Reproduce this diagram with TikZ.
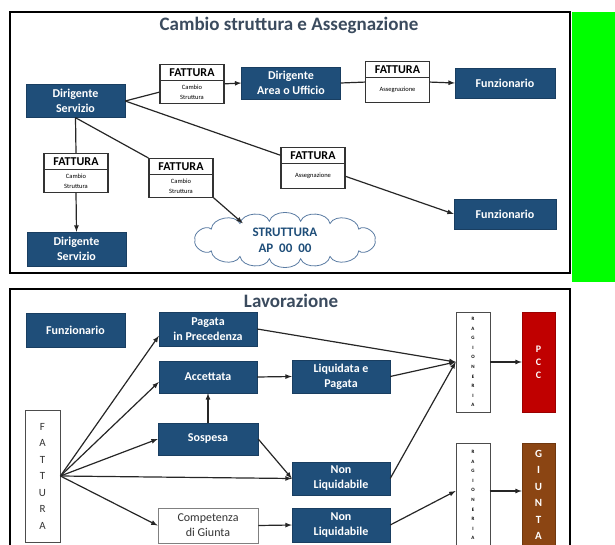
\documentclass[tikz,border=0pt]{standalone}
\usepackage{fontspec}
\setmainfont{Carlito}
\usepackage{xcolor}
\usepackage{tikz}
\usetikzlibrary{arrows.meta, calc, shapes.multipart}

\definecolor{boxblue}{HTML}{1F4E79}
\definecolor{titlegray}{HTML}{3B4B5E}
\definecolor{pccred}{HTML}{C00000}
\definecolor{giuntabrown}{HTML}{8B4513}
\definecolor{cloudline}{HTML}{5B7CA3}
\newcommand{\fathead}{\bfseries\fontsize{12}{13}\selectfont}
\newcommand{\subpad}{\rule[-7pt]{0pt}{17pt}}

\begin{document}
\begin{tikzpicture}[x=1pt, y=-1pt,
    blu/.style={draw=boxblue!80!black, fill=boxblue, text=white, align=center,
        font=\bfseries\fontsize{12}{15}\selectfont, minimum width=99pt, minimum height=33pt, inner sep=1pt},
    fatt/.style={rectangle split, rectangle split parts=2, draw=black!80, line width=1.1pt, fill=white,
        text width=58pt, align=center, inner xsep=3pt, inner ysep=3.5pt, anchor=north,
        font=\fontsize{6.5}{10}\selectfont},
    title/.style={text=titlegray, font=\bfseries\fontsize{19}{21}\selectfont},
    col/.style={draw=black!70, thick, fill=white, minimum width=34pt, inner sep=1pt, align=center},
    conn/.style={black!85, line width=1.2pt},
    arr/.style={black!85, line width=1.2pt, -latex}]
    \useasboundingbox (0,0) rectangle (615,545);

    \fill[green] (572,12) rectangle (615,282);
    \draw[very thick] (10,12) rectangle (570,273);
    \draw[very thick] (10,289) rectangle (570,560);

    \node[title] (t1) at (289,25) {Cambio struttura e Assegnazione};
    \node[title] (t2) at (291,301) {Lavorazione};

    \node[blu] (ds1) at (75.5,101) {Dirigente\\Servizio};
    \node[fatt] (fa) at (192,64) {\fathead FATTURA \nodepart{two} Cambio\\Struttura};
    \node[blu, minimum height=32pt] (dau) at (291,83) {Dirigente\\Area o Ufficio};
    \node[fatt] (fb) at (397.5,61) {\fathead FATTURA \nodepart{two} \subpad Assegnazione};
    \node[blu, minimum width=100pt, minimum height=30pt] (fun1) at (505,83) {Funzionario};
    \node[fatt] (fc) at (76,153) {\fathead FATTURA \nodepart{two} Cambio\\Struttura};
    \node[fatt] (fd) at (181,158) {\fathead FATTURA \nodepart{two} Cambio\\Struttura};
    \node[fatt] (fe) at (313,147) {\fathead FATTURA \nodepart{two} \subpad Assegnazione};
    \node[blu, minimum height=34pt] (ds2) at (76.5,249) {Dirigente\\Servizio};
    \node[blu, minimum width=102pt, minimum height=30pt] (fun2) at (505,214) {Funzionario};

    \coordinate (cl) at (285,240);
    \draw[cloudline, thick, fill=white] ($(cl)+(0:90 and 19)$)
        \foreach \a in {35,60,80,100,120,145,180,215,240,260,280,300,325,360} {
            to[bend left=75] ($(cl)+(\a:90 and 19)$)
        } -- cycle;
    \coordinate (cloudin) at ($(cl)+(242:90 and 19)$);
    \node[text=boxblue, align=center, font=\bfseries\fontsize{13}{16}\selectfont] (strutt) at (cl) {STRUTTURA\\AP\ \ 00\ \ 00};

    \draw[conn] (ds1.east) -- ($(fa.text split west)!0.5!(fa.south west)$);
    \draw[arr] (fa.east) -- (dau.west);
    \draw[conn] (dau.east) -- (fb.west);
    \draw[arr] (fb.east) -- (fun1.west);
    \draw[conn] (ds1.east) -- ($(fe.north west)!0.5!(fe.text split west)$);
    \draw[arr] ($(fe.text split east)!0.5!(fe.south east)$) -- (fun2.west);
    \draw[conn] (ds1.south) -- (fd.north west);
    \draw[arr] (fd.south east) -- (cloudin);
    \draw[conn] (ds1.south) -- (fc.north);
    \draw[arr] (fc.south) -- (ds2.north);

    \node[blu, minimum height=34pt] (funz) at (75.5,330) {Funzionario};
    \node[blu, minimum width=98pt, minimum height=34pt] (pag) at (208,329) {Pagata\\in Precedenza};
    \node[blu, minimum width=98pt, minimum height=32pt] (acc) at (208,377) {Accettata};
    \node[blu, minimum width=98pt] (liq) at (341,376.5) {Liquidata e\\Pagata};
    \node[blu, minimum width=100pt, minimum height=32pt] (sosp) at (208,439) {Sospesa};
    \node[blu, minimum width=98pt] (nl1) at (341,478.5) {Non\\Liquidabile};
    \node[draw=black!50, thick, fill=white, text=black!80, align=center, minimum width=100pt, minimum height=35pt,
        inner sep=1pt, font=\fontsize{12}{15}\selectfont] (comp) at (208,525.5) {Competenza\\di Giunta};
    \node[blu, minimum width=98pt, minimum height=34pt] (nl2) at (341,525) {Non\\Liquidabile};

    \node[col, minimum width=35pt, minimum height=132pt, text=black!80,
        font=\fontsize{11}{16.5}\selectfont] (fattv) at (42.5,476) {F\\A\\T\\T\\U\\R\\A};
    \node[col, minimum height=100pt, font=\bfseries\fontsize{5}{9.6}\selectfont] (rag1) at (473,362) {R\\A\\G\\I\\O\\N\\E\\R\\I\\A};
    \node[col, minimum height=104pt, font=\bfseries\fontsize{5}{9.6}\selectfont] (rag2) at (473,495) {R\\A\\G\\I\\O\\N\\E\\R\\I\\A};
    \node[draw=pccred!80!black, fill=pccred, text=white, align=center, minimum width=33pt, minimum height=100pt,
        font=\bfseries\fontsize{10}{13}\selectfont] (pcc) at (538.5,362) {P\\C\\C};
    \node[draw=giuntabrown!80!black, fill=giuntabrown, text=white, align=center, minimum width=33pt, minimum height=104pt,
        font=\bfseries\fontsize{11}{16.5}\selectfont] (giunta) at (538.5,495) {G\\I\\U\\N\\T\\A};

    \draw[arr] (fattv.east) -- ($(pag.south west)!0.3!(pag.north west)$);
    \draw[arr] (fattv.east) -- ($(acc.west)+(0,5)$);
    \draw[arr] (fattv.east) -- (sosp.west);
    \draw[arr] (fattv.east) -- (nl1.west);
    \draw[arr] (fattv.east) -- (comp.west);
    \draw[arr] (sosp.north) -- (acc.south);
    \draw[arr] (acc.east) -- (liq.west);
    \draw[arr] (sosp.east) -- (nl1.west);
    \draw[arr] (pag.east) -- (rag1.west);
    \draw[arr] (liq.east) -- (rag1.west);
    \draw[arr] (nl1.east) -- (rag1.west);
    \draw[arr] (comp.east) -- (nl2.west);
    \draw[arr] (nl2.east) -- ($(rag2.west)+(0,-4)$);
    \draw[arr] (rag1.east) -- (pcc.west);
    \draw[arr] ($(rag2.west)+(34,-4)$) -- ($(giunta.west)+(0,-4)$);
\end{tikzpicture}
\end{document}
